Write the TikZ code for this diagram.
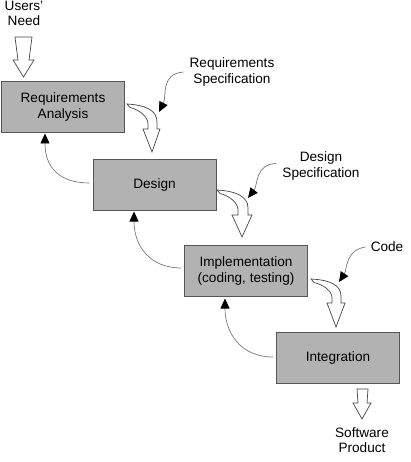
\documentclass[tikz,border=0pt]{standalone}
\usepackage{fontspec}
\setmainfont{Liberation Sans}
\usetikzlibrary{arrows.meta}
\definecolor{boxfill}{RGB}{178,178,178}
\definecolor{boxline}{RGB}{85,85,85}
\definecolor{thinline}{RGB}{120,120,120}
\definecolor{hollowline}{RGB}{70,70,70}
\tikzset{
  stage/.style={draw=boxline, line width=0.9pt, fill=boxfill, minimum width=123pt, minimum height=51pt, align=center, inner sep=0pt, font=\fontsize{13.6}{15.2}\selectfont},
  lbl/.style={align=center, inner sep=0pt, font=\fontsize{13.6}{15.2}\selectfont},
  fb/.style={draw=thinline, line width=0.7pt, -{Triangle[length=10pt,width=9pt,fill=black,color=black]}},
  hollow/.style={draw=hollowline, line width=0.7pt, fill=white, line join=miter},
}
\begin{document}
\begin{tikzpicture}[x=1pt,y=-1pt]
\useasboundingbox (0,0) rectangle (411,462);

% stages
\node[stage] (req) at (63,107) {Requirements\\Analysis};
\node[stage] (des) at (154.5,185) {Design};
\node[stage] (imp) at (246,271) {Implementation\\(coding, testing)};
\node[stage] (int) at (338,358) {Integration};

% labels
\node[lbl] (need) at (24,13.5) {Users'\\Need};
\node[lbl] (reqspec) at (232,72) {Requirements\\Specification};
\node[lbl] (desspec) at (321,166) {Design\\Specification};
\node[lbl] (code) at (387,247) {Code};
\node[lbl] (prod) at (362,440) {Software\\Product};

% hollow arrows (straight)
\draw[hollow] (15,37) -- (32,37) -- (29,60) -- (34,60) -- (23.5,77) -- (13,60) -- (18,60) -- cycle;
\draw[hollow] (357,389) -- (368,389) -- (367,403) -- (371,403) -- (362,419) -- (353,403) -- (358,403) -- cycle;

% hollow arrows (curved)
\draw[hollow] (127,104) .. controls (145,105) and (157,110) .. (157,122) -- (157,129) -- (160,129) -- (152,152) -- (143,129) -- (148,129) -- (148,124) .. controls (148,117) and (140,110) .. (130,107.5) -- cycle;
\draw[hollow] (217,190) .. controls (235,191) and (248,196) .. (248,208) -- (248,215) -- (252,215) -- (242,237) -- (232,215) -- (238,215) -- (238,210) .. controls (238,203) and (230,196) .. (220,193.5) -- cycle;
\draw[hollow] (311,279) .. controls (330,280) and (341,285) .. (341,296) -- (341,303) -- (345,303) -- (336,327) -- (327,303) -- (332,303) -- (332,298) .. controls (332,291) and (324,285) .. (314,282.5) -- cycle;

% feedback arrows
\draw[fb] ([xshift=-3pt]des.west |- 0,183) .. controls (60,183) and (45,168) .. (45,133.5);
\draw[fb] ([xshift=-3pt]imp.west |- 0,268) .. controls (150,268) and (134,246) .. (134,211.5);
\draw[fb] ([xshift=-3pt]int.west |- 0,357) .. controls (240,357) and (225,332) .. (225,298.5);

% specification arrows
\coordinate (t1) at (159,112);
\coordinate (t2) at (248,198);
\coordinate (t3) at (339,282);
\draw[fb] ([xshift=-6pt]reqspec.west) .. controls (160,74) and (167,96) .. (t1);
\draw[fb] ([xshift=-6pt]desspec.west |- 0,163.5) .. controls (255,164) and (258,185) .. (t2);
\draw[fb] ([xshift=-5pt]code.west) .. controls (345,250) and (347,270) .. (t3);
\end{tikzpicture}
\end{document}
